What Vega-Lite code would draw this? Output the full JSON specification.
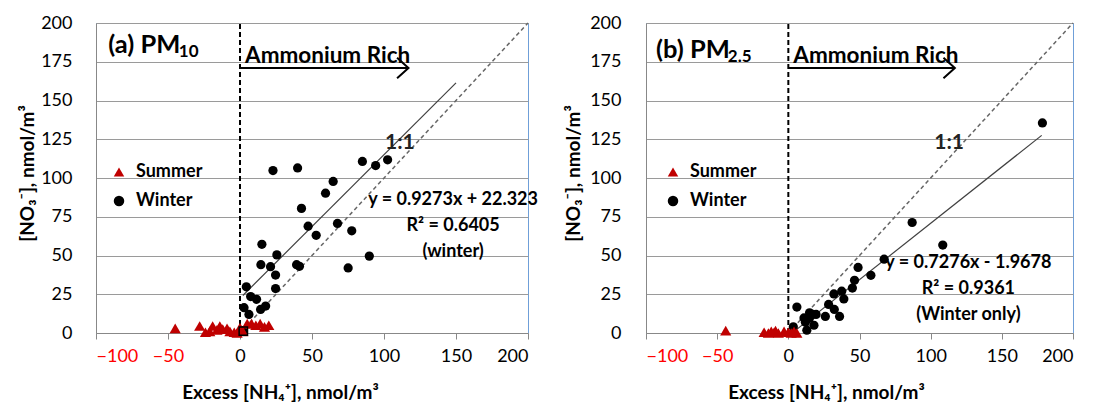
{
  "$schema": "https://vega.github.io/schema/vega-lite/v6.json",
  "padding": {"left": 17, "top": 13, "right": 20, "bottom": 5},
  "bounds": "flush",
  "spacing": 118,
  "datasets": {
    "pm10": [
      {"x": 22.9, "y": 104.8, "season": "Winter"}, {"x": 40, "y": 106.5, "season": "Winter"},
      {"x": 85, "y": 110.7, "season": "Winter"}, {"x": 94.2, "y": 108, "season": "Winter"},
      {"x": 102.5, "y": 111.7, "season": "Winter"}, {"x": 64.7, "y": 97.8, "season": "Winter"},
      {"x": 59.4, "y": 90.2, "season": "Winter"}, {"x": 42.7, "y": 80.4, "season": "Winter"},
      {"x": 47.3, "y": 68.9, "season": "Winter"}, {"x": 67.7, "y": 70.7, "season": "Winter"},
      {"x": 77.6, "y": 65.9, "season": "Winter"}, {"x": 52.9, "y": 63, "season": "Winter"},
      {"x": 15.2, "y": 57.2, "season": "Winter"}, {"x": 25.6, "y": 50.4, "season": "Winter"},
      {"x": 14.5, "y": 44.1, "season": "Winter"}, {"x": 21.2, "y": 42.8, "season": "Winter"},
      {"x": 39.3, "y": 44.1, "season": "Winter"}, {"x": 41.3, "y": 43, "season": "Winter"},
      {"x": 89.8, "y": 49.6, "season": "Winter"}, {"x": 75.1, "y": 42, "season": "Winter"},
      {"x": 24.7, "y": 37.4, "season": "Winter"}, {"x": 24.7, "y": 28.7, "season": "Winter"},
      {"x": 4.4, "y": 29.8, "season": "Winter"}, {"x": 7.4, "y": 23.5, "season": "Winter"},
      {"x": 11.5, "y": 21.7, "season": "Winter"}, {"x": 2.8, "y": 16.3, "season": "Winter"},
      {"x": 6.2, "y": 12, "season": "Winter"}, {"x": 14.3, "y": 15.2, "season": "Winter"},
      {"x": 17.8, "y": 17.4, "season": "Winter"}, {"x": 2, "y": 1.5, "season": "Winter"},
      {"x": -45, "y": 3, "season": "Summer"}, {"x": -28, "y": 4.5, "season": "Summer"},
      {"x": -24, "y": 0.5, "season": "Summer"}, {"x": -21, "y": 1, "season": "Summer"},
      {"x": -19, "y": 4.5, "season": "Summer"}, {"x": -16, "y": 2, "season": "Summer"},
      {"x": -14, "y": 4.5, "season": "Summer"}, {"x": -12, "y": 2.5, "season": "Summer"},
      {"x": -9, "y": 3, "season": "Summer"}, {"x": -7, "y": 1, "season": "Summer"},
      {"x": -4, "y": 0.5, "season": "Summer"}, {"x": -2, "y": 0, "season": "Summer"},
      {"x": 0, "y": 3.5, "season": "Summer"}, {"x": 2, "y": 1, "season": "Summer"},
      {"x": 5, "y": 6, "season": "Summer"}, {"x": 8, "y": 6, "season": "Summer"},
      {"x": 11, "y": 5, "season": "Summer"}, {"x": 14, "y": 6, "season": "Summer"},
      {"x": 17, "y": 4, "season": "Summer"}, {"x": 20, "y": 5, "season": "Summer"}
    ],
    "pm25": [
      {"x": 178.5, "y": 135.5, "season": "Winter"}, {"x": 87, "y": 71.3, "season": "Winter"},
      {"x": 108.5, "y": 56.7, "season": "Winter"}, {"x": 67.3, "y": 47.6, "season": "Winter"},
      {"x": 49, "y": 42.3, "season": "Winter"}, {"x": 58, "y": 37.2, "season": "Winter"},
      {"x": 46.5, "y": 34, "season": "Winter"}, {"x": 45, "y": 29, "season": "Winter"},
      {"x": 37.5, "y": 27, "season": "Winter"}, {"x": 32, "y": 25.2, "season": "Winter"},
      {"x": 39, "y": 22, "season": "Winter"}, {"x": 28.3, "y": 18.4, "season": "Winter"},
      {"x": 32.3, "y": 15.2, "season": "Winter"}, {"x": 36, "y": 10.7, "season": "Winter"},
      {"x": 26, "y": 10.7, "season": "Winter"}, {"x": 14.9, "y": 13, "season": "Winter"},
      {"x": 19.5, "y": 12, "season": "Winter"}, {"x": 6, "y": 16.7, "season": "Winter"},
      {"x": 12, "y": 7, "season": "Winter"}, {"x": 18, "y": 5, "season": "Winter"},
      {"x": 13, "y": 1.8, "season": "Winter"}, {"x": 3.5, "y": 4, "season": "Winter"},
      {"x": 14.8, "y": 9.5, "season": "Winter"}, {"x": 11, "y": 9.7, "season": "Winter"},
      {"x": 17, "y": 12, "season": "Winter"},
      {"x": -44, "y": 1.5, "season": "Summer"}, {"x": -17, "y": 0.5, "season": "Summer"},
      {"x": -14, "y": 0, "season": "Summer"}, {"x": -12, "y": 1, "season": "Summer"},
      {"x": -10, "y": 0.5, "season": "Summer"}, {"x": -9, "y": 1.5, "season": "Summer"},
      {"x": -7, "y": 0, "season": "Summer"}, {"x": -3, "y": 1, "season": "Summer"},
      {"x": 0, "y": 0.5, "season": "Summer"}, {"x": 2, "y": 0, "season": "Summer"},
      {"x": 4, "y": 1, "season": "Summer"}, {"x": 6, "y": 0, "season": "Summer"}
    ],
    "oneToOne": [{"x": 0, "y": 0}, {"x": 200, "y": 200}],
    "fit10": [{"x": 2, "y": 24.2}, {"x": 150, "y": 161.4}],
    "fit25": [{"x": 5, "y": 1.7}, {"x": 178, "y": 127.5}],
    "marker10": [{"x": 2.3, "y": 1.2}],
    "one": [{}]
  },
  "hconcat": [
    {
      "width": 432,
      "height": 310,
      "layer": [
        {
          "data": {"name": "oneToOne"},
          "mark": {"type": "line", "color": "#666666", "strokeWidth": 1.5, "strokeDash": [4, 3]},
          "encoding": {
            "x": {"field": "x", "type": "quantitative", "scale": {"domain": [-100, 200], "nice": false, "zero": false},
              "axis": {"title": "Excess [NH₄⁺], nmol/m³", "values": [-100, -50, 0, 50, 100, 150, 200], "titleX": 184, "titleY": 59, "titleBaseline": "middle",
                "labelColor": {"condition": {"test": "datum.value < 0", "value": "#FF0000"}, "value": "#000000"}}},
            "y": {"field": "y", "type": "quantitative", "scale": {"domain": [0, 200], "nice": false},
              "axis": {"title": "[NO₃⁻], nmol/m³", "values": [0, 25, 50, 75, 100, 125, 150, 175, 200], "labelOverlap": false, "titleX": -69, "titleY": 150, "titleAngle": -90, "titleAlign": "center", "titleBaseline": "middle"}}
          }
        },
        {
          "data": {"name": "fit10"},
          "mark": {"type": "line", "color": "#404040", "strokeWidth": 1.2},
          "encoding": {"x": {"field": "x", "type": "quantitative"}, "y": {"field": "y", "type": "quantitative", "axis": {"values": [0, 25, 50, 75, 100, 125, 150, 175, 200]}}}
        },
        {
          "data": {"name": "one"},
          "mark": {"type": "rule", "color": "#000000", "strokeWidth": 2, "strokeDash": [5, 3]},
          "encoding": {"x": {"datum": 0}, "y": {"datum": 0, "axis": {"values": [0, 25, 50, 75, 100, 125, 150, 175, 200]}}, "y2": {"datum": 200}}
        },
        {
          "data": {"name": "one"},
          "mark": {"type": "rule", "color": "#000000", "strokeWidth": 2},
          "encoding": {"x": {"datum": 0}, "x2": {"datum": 117}, "y": {"datum": 171, "axis": {"values": [0, 25, 50, 75, 100, 125, 150, 175, 200]}}}
        },
        {
          "data": {"name": "one"},
          "mark": {"type": "point", "shape": "M-1,-0.9L0,0L-1,0.9", "filled": false, "stroke": "#000000", "strokeWidth": 2, "size": 520, "opacity": 1},
          "encoding": {"x": {"datum": 117}, "y": {"datum": 171, "axis": {"values": [0, 25, 50, 75, 100, 125, 150, 175, 200]}}}
        },
        {
          "data": {"name": "pm10"},
          "mark": {"type": "point", "filled": true, "opacity": 1},
          "encoding": {
            "x": {"field": "x", "type": "quantitative"},
            "y": {"field": "y", "type": "quantitative", "axis": {"values": [0, 25, 50, 75, 100, 125, 150, 175, 200]}},
            "size": {"field": "season", "type": "nominal", "scale": {"domain": ["Summer", "Winter"], "range": [125, 85]}, "legend": null},
            "color": {"field": "season", "type": "nominal", "scale": {"domain": ["Summer", "Winter"], "range": ["#C00000", "#000000"]},
              "legend": {"orient": "none", "legendX": 14, "legendY": 140, "title": null, "labelFontSize": 18, "labelFontWeight": "bold", "labelColor": "#000000", "rowPadding": 11, "labelOffset": 8, "symbolSize": 110}},
            "shape": {"field": "season", "type": "nominal", "scale": {"domain": ["Summer", "Winter"], "range": ["triangle-up", "circle"]},
              "legend": {"orient": "none", "legendX": 14, "legendY": 140, "title": null, "labelFontSize": 18, "labelFontWeight": "bold", "labelColor": "#000000", "rowPadding": 11, "labelOffset": 8, "symbolSize": 110}}
          }
        },
        {
          "data": {"name": "marker10"},
          "mark": {"type": "point", "shape": "square", "filled": false, "stroke": "#000000", "strokeWidth": 1.5, "size": 70, "opacity": 1},
          "encoding": {"x": {"field": "x", "type": "quantitative"}, "y": {"field": "y", "type": "quantitative", "axis": {"values": [0, 25, 50, 75, 100, 125, 150, 175, 200]}}}
        },
        {
          "data": {"name": "one"},
          "mark": {"type": "text", "text": "(a) PM", "fontSize": 25.5, "fontWeight": "bold", "align": "left", "baseline": "alphabetic", "color": "#000000"},
          "encoding": {"x": {"datum": -91.5}, "y": {"datum": 180.6, "axis": {"values": [0, 25, 50, 75, 100, 125, 150, 175, 200]}}}
        },
        {
          "data": {"name": "one"},
          "mark": {"type": "text", "text": "10", "fontSize": 17, "fontWeight": "bold", "align": "left", "baseline": "alphabetic", "color": "#000000"},
          "encoding": {"x": {"datum": -42.5}, "y": {"datum": 178, "axis": {"values": [0, 25, 50, 75, 100, 125, 150, 175, 200]}}}
        },
        {
          "data": {"name": "one"},
          "mark": {"type": "text", "text": "Ammonium Rich", "fontSize": 22.5, "fontWeight": "bold", "align": "left", "baseline": "alphabetic", "color": "#000000"},
          "encoding": {"x": {"datum": 3.5}, "y": {"datum": 174.5, "axis": {"values": [0, 25, 50, 75, 100, 125, 150, 175, 200]}}}
        },
        {
          "data": {"name": "one"},
          "mark": {"type": "text", "text": "1:1", "fontSize": 21, "fontWeight": "bold", "align": "center", "baseline": "middle", "color": "#222222"},
          "encoding": {"x": {"datum": 111}, "y": {"datum": 122.8, "axis": {"values": [0, 25, 50, 75, 100, 125, 150, 175, 200]}}}
        },
        {
          "data": {"name": "one"},
          "mark": {"type": "text", "text": ["y = 0.9273x + 22.323", "R² = 0.6405", "(winter)"], "lineHeight": 26, "fontSize": 18, "fontWeight": "bold", "align": "center", "baseline": "middle", "color": "#000000"},
          "encoding": {"x": {"datum": 148}, "y": {"datum": 85.8, "axis": {"values": [0, 25, 50, 75, 100, 125, 150, 175, 200]}}}
        }
      ]
    },
    {
      "width": 427,
      "height": 310,
      "layer": [
        {
          "data": {"name": "oneToOne"},
          "mark": {"type": "line", "color": "#666666", "strokeWidth": 1.5, "strokeDash": [4, 3]},
          "encoding": {
            "x": {"field": "x", "type": "quantitative", "scale": {"domain": [-100, 200], "nice": false, "zero": false},
              "axis": {"title": "Excess [NH₄⁺], nmol/m³", "values": [-100, -50, 0, 50, 100, 150, 200], "titleX": 180, "titleY": 59, "titleBaseline": "middle",
                "labelColor": {"condition": {"test": "datum.value < 0", "value": "#FF0000"}, "value": "#000000"}}},
            "y": {"field": "y", "type": "quantitative", "scale": {"domain": [0, 200], "nice": false},
              "axis": {"title": "[NO₃⁻], nmol/m³", "values": [0, 25, 50, 75, 100, 125, 150, 175, 200], "labelOverlap": false, "titleX": -73, "titleY": 150, "titleAngle": -90, "titleAlign": "center", "titleBaseline": "middle", "labelPadding": 25}}
          }
        },
        {
          "data": {"name": "fit25"},
          "mark": {"type": "line", "color": "#404040", "strokeWidth": 1.2},
          "encoding": {"x": {"field": "x", "type": "quantitative"}, "y": {"field": "y", "type": "quantitative", "axis": {"values": [0, 25, 50, 75, 100, 125, 150, 175, 200]}}}
        },
        {
          "data": {"name": "one"},
          "mark": {"type": "rule", "color": "#000000", "strokeWidth": 2, "strokeDash": [5, 3]},
          "encoding": {"x": {"datum": 0}, "y": {"datum": 0, "axis": {"values": [0, 25, 50, 75, 100, 125, 150, 175, 200]}}, "y2": {"datum": 200}}
        },
        {
          "data": {"name": "one"},
          "mark": {"type": "rule", "color": "#000000", "strokeWidth": 2},
          "encoding": {"x": {"datum": 0}, "x2": {"datum": 117}, "y": {"datum": 171, "axis": {"values": [0, 25, 50, 75, 100, 125, 150, 175, 200]}}}
        },
        {
          "data": {"name": "one"},
          "mark": {"type": "point", "shape": "M-1,-0.9L0,0L-1,0.9", "filled": false, "stroke": "#000000", "strokeWidth": 2, "size": 520, "opacity": 1},
          "encoding": {"x": {"datum": 117}, "y": {"datum": 171, "axis": {"values": [0, 25, 50, 75, 100, 125, 150, 175, 200]}}}
        },
        {
          "data": {"name": "pm25"},
          "mark": {"type": "point", "filled": true, "opacity": 1},
          "encoding": {
            "x": {"field": "x", "type": "quantitative"},
            "y": {"field": "y", "type": "quantitative", "axis": {"values": [0, 25, 50, 75, 100, 125, 150, 175, 200]}},
            "size": {"field": "season", "type": "nominal", "scale": {"domain": ["Summer", "Winter"], "range": [125, 85]}, "legend": null},
            "color": {"field": "season", "type": "nominal", "scale": {"domain": ["Summer", "Winter"], "range": ["#C00000", "#000000"]},
              "legend": {"orient": "none", "legendX": 18, "legendY": 140, "title": null, "labelFontSize": 18, "labelFontWeight": "bold", "labelColor": "#000000", "rowPadding": 11, "labelOffset": 8, "symbolSize": 110}},
            "shape": {"field": "season", "type": "nominal", "scale": {"domain": ["Summer", "Winter"], "range": ["triangle-up", "circle"]},
              "legend": {"orient": "none", "legendX": 18, "legendY": 140, "title": null, "labelFontSize": 18, "labelFontWeight": "bold", "labelColor": "#000000", "rowPadding": 11, "labelOffset": 8, "symbolSize": 110}}
          }
        },
        {
          "data": {"name": "one"},
          "mark": {"type": "text", "text": "(b) PM", "fontSize": 25.5, "fontWeight": "bold", "align": "left", "baseline": "alphabetic", "color": "#000000"},
          "encoding": {"x": {"datum": -93}, "y": {"datum": 177.5, "axis": {"values": [0, 25, 50, 75, 100, 125, 150, 175, 200]}}}
        },
        {
          "data": {"name": "one"},
          "mark": {"type": "text", "text": "2.5", "fontSize": 17, "fontWeight": "bold", "align": "left", "baseline": "alphabetic", "color": "#000000"},
          "encoding": {"x": {"datum": -42.5}, "y": {"datum": 175, "axis": {"values": [0, 25, 50, 75, 100, 125, 150, 175, 200]}}}
        },
        {
          "data": {"name": "one"},
          "mark": {"type": "text", "text": "Ammonium Rich", "fontSize": 22.5, "fontWeight": "bold", "align": "left", "baseline": "alphabetic", "color": "#000000"},
          "encoding": {"x": {"datum": 3.5}, "y": {"datum": 174.5, "axis": {"values": [0, 25, 50, 75, 100, 125, 150, 175, 200]}}}
        },
        {
          "data": {"name": "one"},
          "mark": {"type": "text", "text": "1:1", "fontSize": 21, "fontWeight": "bold", "align": "center", "baseline": "middle", "color": "#222222"},
          "encoding": {"x": {"datum": 113}, "y": {"datum": 122.4, "axis": {"values": [0, 25, 50, 75, 100, 125, 150, 175, 200]}}}
        },
        {
          "data": {"name": "one"},
          "mark": {"type": "text", "text": ["y = 0.7276x - 1.9678", "R² = 0.9361", "(Winter only)"], "lineHeight": 26, "fontSize": 18, "fontWeight": "bold", "align": "center", "baseline": "middle", "color": "#000000"},
          "encoding": {"x": {"datum": 126.5}, "y": {"datum": 45, "axis": {"values": [0, 25, 50, 75, 100, 125, 150, 175, 200]}}}
        }
      ]
    }
  ],
  "resolve": {"legend": {"color": "independent", "shape": "independent"}, "scale": {"x": "independent", "y": "independent"}},
  "config": {
    "font": "Lato, Noto Sans",
    "background": "#ffffff",
    "view": {"stroke": "#6F9FD8", "strokeWidth": 1},
    "axis": {
      "labelFont": "Lato, Noto Sans", "labelFontSize": 18, "labelColor": "#000000",
      "titleFont": "Lato, Noto Sans", "titleFontSize": 19, "titleFontWeight": "bold", "titleColor": "#000000",
      "domainColor": "#888888", "tickColor": "#888888", "gridColor": "#9a9a9a", "gridOpacity": 1
    },
    "axisX": {"grid": false, "tickSize": 6, "labelPadding": 8},
    "axisY": {"grid": true, "ticks": false, "labelPadding": 24},
    "legend": {"labelFont": "Lato, Noto Sans"}
  }
}
